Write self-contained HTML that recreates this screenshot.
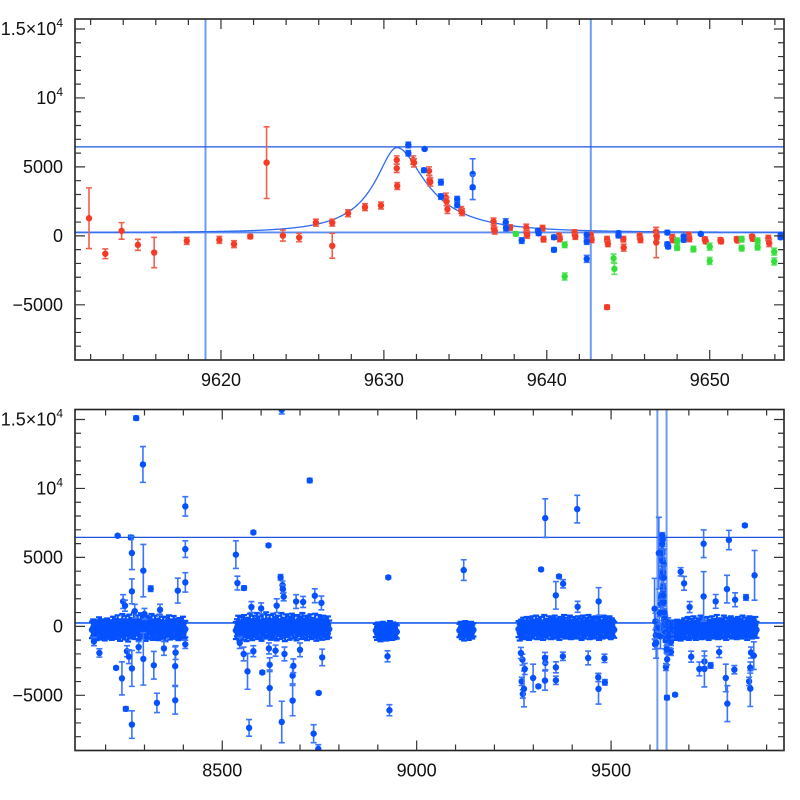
<!DOCTYPE html>
<html><head><meta charset="utf-8"><style>
html,body{margin:0;padding:0;background:#fff;width:800px;height:800px;overflow:hidden}
svg{display:block}
text{font-family:"Liberation Sans",sans-serif;font-size:18px;fill:#111}
</style></head><body>
<svg id="chart" width="800" height="800" viewBox="0 0 800 800">
<defs>
<clipPath id="clipTop"><rect x="75" y="19" width="709" height="341"/></clipPath>
<clipPath id="clipBot"><rect x="75" y="409.5" width="709" height="341"/></clipPath>
</defs>
</svg>
<script>
// ---------- top panel data ----------
const redT=[9611.9,9612.9,9613.9,9614.9,9615.9,9617.9,9619.9,9620.8,9621.8,9622.8,9623.8,9624.8,9625.83,9626.83,9626.83,9627.8,9628.84,9629.82,9630.79,9630.79,9630.82,9631.8,9631.85,9632.77,9632.8,9632.85,9633.8,9633.85,9633.9,9634.75,9634.8,9636.73,9636.75,9636.8,9637.74,9638.74,9638.76,9638.8,9639.74,9639.8,9640.75,9640.8,9641.7,9641.75,9642.7,9642.75,9643.7,9643.75,9643.7,9644.7,9644.72,9645.7,9645.75,9646.7,9646.72,9646.75,9647.7,9647.75,9648.7,9648.75,9649.7,9649.75,9650.66,9650.7,9651.66,9651.7,9652.6,9652.65,9653.6,9653.65];
const redV=[1280,-1300,360,-650,-1210,-360,-290,-600,-50,5310,20,-120,960,960,-720,1640,2080,2200,5500,4900,3620,5500,5300,4700,4060,3910,2800,2490,1930,1880,1720,1040,560,380,600,600,200,70,560,-240,0,-220,240,-50,70,-290,-240,-580,-5170,-240,-850,0,-290,310,-480,-50,-100,-290,70,-220,-240,-410,-290,-410,-220,-340,-50,-220,-170,-530];
const redE=[2200,350,600,400,1100,250,250,250,150,2600,400,300,250,250,900,250,250,250,300,300,250,300,300,300,300,300,300,300,300,250,250,250,250,250,200,250,250,250,200,200,200,200,200,200,200,200,200,200,150,200,250,200,200,300,1100,200,200,200,200,200,150,150,150,150,150,150,150,150,200,250];
const blueT=[9631.5,9631.5,9632.5,9632.46,9633.5,9633.5,9634.5,9634.5,9635.45,9635.45,9637.48,9637.5,9638.46,9639.46,9639.5,9640.44,9640.44,9642.45,9642.45,9642.45,9644.4,9644.4,9647.4,9647.4,9647.45,9648.4,9648.4,9649.45,9654.35,9654.35];
const blueV=[6590,5990,6300,4760,3890,2850,2660,2250,4490,3530,990,560,-340,380,190,-100,-1010,70,-410,-1670,200,20,240,-600,-780,-50,-290,145,70,-100];
const blueE=[200,200,100,150,200,200,200,200,1100,900,250,200,200,150,150,150,150,200,200,250,150,150,150,150,150,150,150,100,150,150];
const greenT=[9638.1,9641.1,9641.1,9644.1,9644.15,9648.0,9648.0,9649.0,9650.0,9650.0,9651.96,9651.96,9652.94,9652.94,9653.96,9653.96];
const greenV=[145,-650,-2950,-1620,-2390,-360,-850,-960,-780,-1810,-240,-890,-360,-820,-1140,-1860];
const greenE=[150,200,250,300,400,200,200,200,250,250,200,200,200,200,250,250];

// reference lines and model
const vLines=[9619.05,9642.7];
const hLines=[6450,250];
const modelBase=250, modelFs=2515, modelU0=0.3, modelT0=9630.8, modelTeL=4.3, modelTeR=5.6;

// ---------- bottom panel data ----------
const outT=[8278.6,8296,8405,8405,8405,8231,8265,8267.6,8267.6,8297,8316,8385.6,8245,8250,8275,8300,8340,8227,8242,8252,8267.6,8267.6,8297,8324,8332,8379,8379,8405,8184,8170,8255,8260,8285,8350,8380,8535,8539,8556,8580,8619,8650,8655,8656,8658,8725,8653,8708,8738,8755,8575,8600,8640,8690,8565,8569,8603,8622,8622,8637,8653,8681,8681,8683,8735,8747,8748,8757,8545,8555,8580,8620,8660,8700,8927,8930,8925,9121,9330.6,9412.9,9320,9366,9376.6,9357.9,9414,9468,9270,9273,9276,9278,9272,9268,9299.5,9313,9330,9331,9330,9358,9358,9376,9441,9467.7,9467,9484,9483,9664.6,9679,9687.7,9738,9738,9803,9844,9869,9769,9798,9819,9847,9702,9706,9727,9740,9740,9756,9778,9795,9799,9817,9860,9855,9858,9858,9867];
const outV=[15100,11740,8700,5600,3190,6570,6450,5320,2540,4040,2730,2590,1800,1500,1100,900,1200,-3010,-3770,-5980,-7120,-3050,-2360,-2820,-5550,-5360,-2880,-1300,-1930,-1100,-1800,-2200,-1500,-1600,-1900,5200,3140,2780,6810,5870,3560,2990,2700,2150,10580,15700,1770,2220,1700,1400,1300,1500,1800,-3260,-7360,-3340,-2780,-4470,-1760,-6930,-5380,-3570,-2860,-7780,-8880,-4830,-2250,-1200,-2000,-1800,-1600,-2000,-1700,3550,-6080,-2170,4080,7850,8500,4130,3620,3090,2250,1420,1810,-3990,-4900,-4530,-3090,-2410,-1930,-3740,-4350,-3930,-2650,-2290,-3910,-2970,-2170,-2290,-4530,-3700,-4060,-2320,-4950,3960,3120,5990,2170,6260,7320,3700,1810,2700,1930,2100,1400,-2200,-3090,-2540,-3090,-2830,-1860,-3740,-5600,-3140,-1900,-3990,-4510,-2990,-2120];
const outE=[150,1300,700,600,700,100,150,1200,900,1900,200,900,500,400,500,400,400,100,1200,150,1000,1300,1900,1000,700,1000,1400,300,300,300,400,500,400,500,500,1000,500,150,100,100,200,300,300,300,150,300,400,500,500,400,400,500,500,1300,600,100,500,1300,400,1500,1100,600,500,650,300,100,600,400,500,400,400,500,500,100,400,400,750,1400,1000,100,100,300,1000,400,1000,300,300,1300,400,400,400,1000,100,700,500,400,300,400,300,500,1100,300,200,300,100,300,500,1000,1800,700,100,1800,500,1000,500,200,400,400,500,400,1300,200,400,1000,1300,300,400,300,1300,400,1000];

const coreStep=3;
const coreStart=[8165,8535,8895,9110,9262,9658];
const coreErr=[600,620,480,480,580,580];
const core1=[-250,-100,-300,-150,-400,-200,50,-350,-180,-90,-260,-420,-120,-30,-300,-200,-150,-380,100,-250,-60,-310,200,-150,-450,-90,300,-200,-350,150,-100,-500,250,-280,0,-150,400,-320,-50,200,-400,-120,350,-260,80,-180,-450,150,-300,50,-220,300,-380,-100,180,-250,-50,-400,250,-150,-300,100,-200,-480,50,-150,200,-350,-100,-250,150,-300,-50,-200,-400,0,-150,-280,100,-350,-200];
const core2=[-300,-100,150,-400,-200,50,-350,200,-150,-450,0,-250,300,-100,-380,150,-200,-50,350,-300,100,-150,-420,250,-80,-260,400,-180,-50,200,-350,-120,300,-250,50,-400,150,-100,-300,350,-200,0,-450,250,-150,100,-350,-50,300,-250,150,-180,-400,200,-100,50,-300,350,-220,-50,150,-380,100,-150,250,-300,0,-200,300,-420,-100,200,-250,50,-350,150,-150,-50,-300,100,-200];
const core3=[-300,-500,-200,-400,-600,-350,-150,-450,-300,-550,-250,-400,-100,-350,-500,-200,-450,-300,-400];
const core4=[-300,-150,-450,-250,-550,-100,-350,-200,-500,-300,-150,-400,-250];
const core5=[-200,-450,-100,-300,50,-350,-150,100,-250,-400,0,-200,150,-300,-100,200,-350,-50,-250,100,-150,-400,250,-200,-50,-300,150,-100,-350,50,-250,200,-150,-300,0,-400,100,-200,-50,250,-300,-150,50,-250,200,-350,-100,100,-200,-50,-300,150,-250,0,-400,200,-150,-300,50,-100,250,-350,-200,100,-50,-300,150,-250,0,-400,100,-150,-300,200,-100,-250,50,-200,150,-350,0,-150,-250];
const core6=[-150,-350,-200,-400,-100,-300,-250,-450,-150,-300,0,-350,-200,100,-400,-250,-50,-300,150,-200,-400,0,-250,-100,200,-350,-150,50,-300,-200,100,-400,-100,-250,150,-300,-50,-200,250,-350,-150,0,-300,-100,200,-250,-400,50,-200,-100,150,-300,-250,0,-150,-350,100,-200,-50,-300,200,-150,-250,50,-400,-100,150,-200,-300,0,-150,100,-250];
const coreVals=[core1,core2,core3,core4,core5,core6];

// ---------- axes config ----------
const topX={t0:9611.04,t1:9654.56,px0:75,px1:784};
const botX={t0:8121.3,t1:9944.7,px0:75,px1:784};
const V0=-9000, V1=15724;
const topY={py0:360,py1:19};
const botY={py0:750.5,py1:409.5};
const topTickMajor=[9620,9630,9640,9650];
const topTickLabels=["9620","9630","9640","9650"];
const botTickMajor=[8500,9000,9500];
const botTickLabels=["8500","9000","9500"];
const yTickMajor=[-5000,0,5000,10000,15000];

const NS="http://www.w3.org/2000/svg";
const svg=document.getElementById('chart');
function mk(tag,attrs,parent){const e=document.createElementNS(NS,tag);for(const k in attrs)e.setAttribute(k,attrs[k]);(parent||svg).appendChild(e);return e;}
function sx(ax,t){return ax.px0+(t-ax.t0)/(ax.t1-ax.t0)*(ax.px1-ax.px0);}
function sy(ay,v){return ay.py0+(v-V0)/(V1-V0)*(ay.py1-ay.py0);}
function model(t){const te=t<modelT0?modelTeL:modelTeR;const tau=(t-modelT0)/te;const u=Math.sqrt(modelU0*modelU0+tau*tau);const A=(u*u+2)/(u*Math.sqrt(u*u+4));return modelBase+modelFs*(A-1);}

function drawPoint(g,ax,ay,t,v,e,col,ecol,name,sw){
  const x=sx(ax,t),y=sy(ay,v),yt=sy(ay,v+e),yb=sy(ay,v-e);
  const eb=mk('path',{d:`M${x},${yt}V${yb}M${x-3},${yt}H${x+3}M${x-3},${yb}H${x+3}`,stroke:ecol,'stroke-width':sw||1.6,fill:'none'},g);
  
  
  const c=mk('circle',{cx:x,cy:y,r:3.2,fill:col},g);
  
  
}

function panel(id,ax,ay,clip,majors,labels,minorStep,isTop){
  const g=mk('g',{'clip-path':`url(#${clip})`});
  
  
  vLines.forEach(t=>{const l=mk('line',{x1:sx(ax,t),x2:sx(ax,t),y1:ay.py1,y2:ay.py0,stroke:'#6b9cf5','stroke-width':2},g);
    
    });
  hLines.forEach((v,i)=>{const l=mk('line',{x1:ax.px0,x2:ax.px1,y1:sy(ay,v),y2:sy(ay,v),stroke:i==0?'#1f55dd':'#5b8cf2','stroke-width':i==0?1.2:1.8},g);
    
    });
  let d='';const n=1400;
  for(let i=0;i<=n;i++){const t=ax.t0+(ax.t1-ax.t0)*i/n;d+=(i?'L':'M')+sx(ax,t).toFixed(2)+','+sy(ay,model(t)).toFixed(2);}
  const cv=mk('path',{d:d,stroke:'#2f6cf0','stroke-width':1.3,fill:'none'},g);
  
  
  const B='#0550ff',BE='#3a75ff';
  if(isTop){
    redT.forEach((t,i)=>drawPoint(g,ax,ay,t,redV[i],redE[i],'#f53a26','#f0604e','red-series'));
    greenT.forEach((t,i)=>drawPoint(g,ax,ay,t,greenV[i],greenE[i],'#33e03a','#5de262','green-series'));
    blueT.forEach((t,i)=>drawPoint(g,ax,ay,t,blueV[i],blueE[i],B,BE,'blue-series'));
  } else {
    coreVals.forEach((arr,s)=>arr.forEach((v,i)=>drawPoint(g,ax,ay,coreStart[s]+i*coreStep,v,coreErr[s],B,B,'season-'+(s+1),2.2)));
    outT.forEach((t,i)=>drawPoint(g,ax,ay,t,outV[i],outE[i],B,BE,'outlier'));
    redT.forEach((t,i)=>drawPoint(g,ax,ay,t,redV[i],redE[i],B,BE,'event'));
    greenT.forEach((t,i)=>drawPoint(g,ax,ay,t,greenV[i],greenE[i],B,BE,'event'));
    blueT.forEach((t,i)=>drawPoint(g,ax,ay,t,blueV[i],blueE[i],B,BE,'event'));
  }
  const f=mk('rect',{x:ax.px0,y:ay.py1,width:ax.px1-ax.px0,height:ay.py0-ay.py1,fill:'none',stroke:'#222','stroke-width':1.6});
  
  
  let td='';
  const first=Math.ceil(ax.t0/minorStep)*minorStep;
  for(let t=first;t<=ax.t1;t+=minorStep){const x=sx(ax,t);const maj=majors.some(m=>Math.abs(m-t)<1e-6);const L=maj?10:6;
    td+=`M${x},${ay.py0}V${ay.py0-L}M${x},${ay.py1}V${ay.py1+L}`;}
  for(let v=-9000;v<=15000;v+=1000){const y=sy(ay,v);const L=(v%5000==0)?10:6;
    td+=`M${ax.px0},${y}H${ax.px0+L}M${ax.px1},${y}H${ax.px1-L}`;}
  const tk=mk('path',{d:td,stroke:'#333','stroke-width':1.2,fill:'none'});
  
  
  majors.forEach((m,i)=>{const tx=mk('text',{x:sx(ax,m),y:ay.py0+26,'text-anchor':'middle'});tx.textContent=labels[i];
    
    });
  yTickMajor.forEach(v=>{const y=sy(ay,v)+6;const tx=mk('text',{x:63,y:y,'text-anchor':'end'});
    
    
    if(v===10000){tx.innerHTML='10<tspan font-size="12" dy="-8">4</tspan>';}
    else if(v===15000){tx.innerHTML='1.5×10<tspan font-size="12" dy="-8">4</tspan>';}
    else tx.textContent=(v<0?'\u2212':'')+Math.abs(v);});
}
panel('top-panel',topX,topY,'clipTop',topTickMajor,topTickLabels,2,true);
panel('bottom-panel',botX,botY,'clipBot',botTickMajor,botTickLabels,100,false);
</script>
</body></html>
